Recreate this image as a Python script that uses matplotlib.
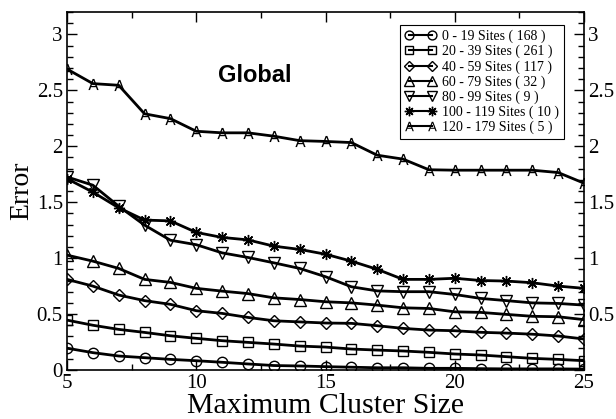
import numpy as np
import matplotlib
matplotlib.use('Agg')
import matplotlib.pyplot as plt
from matplotlib.ticker import MultipleLocator

# maximum cluster size
size = np.arange(5, 26)

# error per site group
e_0_19 = [0.195, 0.155, 0.125, 0.11, 0.095, 0.083, 0.069, 0.054, 0.04, 0.036, 0.03,
          0.025, 0.02, 0.02, 0.015, 0.015, 0.012, 0.01, 0.01, 0.01, 0.008]
e_20_39 = [0.446, 0.40, 0.363, 0.336, 0.306, 0.283, 0.262, 0.247, 0.232, 0.214, 0.205,
           0.1875, 0.178, 0.17, 0.158, 0.143, 0.134, 0.119, 0.104, 0.095, 0.083]
e_40_59 = [0.81, 0.75, 0.67, 0.62, 0.587, 0.53, 0.506, 0.47, 0.44, 0.43, 0.42,
           0.417, 0.396, 0.372, 0.357, 0.351, 0.337, 0.33, 0.32, 0.304, 0.277]
e_60_79 = [1.027, 0.973, 0.908, 0.81, 0.783, 0.73, 0.705, 0.683, 0.645, 0.63, 0.61,
           0.60, 0.58, 0.556, 0.55, 0.52, 0.515, 0.497, 0.48, 0.476, 0.45]
e_80_99 = [1.726, 1.652, 1.464, 1.295, 1.16, 1.12, 1.047, 1.006, 0.958, 0.908, 0.834,
           0.744, 0.707, 0.70, 0.70, 0.675, 0.64, 0.62, 0.60, 0.595, 0.58]
e_100_119 = [1.71, 1.59, 1.45, 1.34, 1.333, 1.23, 1.185, 1.163, 1.107, 1.078, 1.035,
             0.973, 0.90, 0.81, 0.81, 0.82, 0.80, 0.795, 0.78, 0.75, 0.73]
e_120_179 = [2.69, 2.56, 2.545, 2.29, 2.247, 2.134, 2.12, 2.12, 2.09, 2.05, 2.043,
             2.033, 1.92, 1.885, 1.79, 1.786, 1.786, 1.786, 1.786, 1.765, 1.67]

labels = ['0 - 19 Sites ( 168 )', '20 - 39 Sites ( 261 )', '40 - 59 Sites ( 117 )',
          '60 - 79 Sites ( 32 )', '80 - 99 Sites ( 9 )', '100 - 119 Sites ( 10 )',
          '120 - 179 Sites ( 5 )']
series = [e_0_19, e_20_39, e_40_59, e_60_79, e_80_99, e_100_119, e_120_179]
markers = ['o', 's', 'D', '^', 'v', (8, 2, 0), r'$\mathrm{A}$']
msizes = [7.5, 6.5, 6, 8, 8, 8, 8]

plt.rcParams['font.family'] = ['Liberation Serif', 'DejaVu Serif']

fig = plt.figure(figsize=(6.16, 4.19), dpi=100)
ax = fig.add_axes([67/616, 1-370/419, 517/616, 358/419])

for y, m, ms, lab in zip(series, markers, msizes, labels):
    if lab.startswith('120'):
        ax.plot(size, y, color='k', lw=2, marker=m, ms=ms, mfc='k', mec='none',
                label=lab)
    else:
        ax.plot(size, y, color='k', lw=2, marker=m, ms=ms, mfc='none', mec='k',
                mew=1.0, label=lab)

ax.set_xlim(5, 25)
ax.set_ylim(0, 3.2)
ax.xaxis.set_major_locator(MultipleLocator(5))
ax.xaxis.set_minor_locator(MultipleLocator(2.5))
ax.yaxis.set_major_locator(MultipleLocator(0.5))
ax.yaxis.set_minor_locator(MultipleLocator(0.1))
ax.yaxis.set_major_formatter(plt.FuncFormatter(lambda v, p: ('%g' % v)))
ax.tick_params(which='both', direction='in', top=True, right=True,
               labelright=True, labelsize=15, width=1, pad=3)
ax.tick_params(which='major', length=7)
ax.tick_params(which='minor', length=4)
for s in ax.spines.values():
    s.set_linewidth(1.2)

fig.canvas.draw()
for t in ax.yaxis.get_major_ticks():
    if abs(t.get_loc()) < 1e-9:
        t.label2.set_visible(False)

ax.set_xlabel('Maximum Cluster Size', fontsize=21.5, labelpad=0)
ax.set_ylabel('Error', fontsize=20, labelpad=2)

ax.text(0.364, 0.824, 'Global', transform=ax.transAxes, ha='center', va='center',
        fontsize=17, fontweight='bold', family=['Liberation Sans', 'DejaVu Sans'])

leg = ax.legend(loc='upper right', bbox_to_anchor=(0.961, 0.964), borderaxespad=0,
                fontsize=10, numpoints=2, handlelength=2.3, labelspacing=0.12,
                handletextpad=0.4, borderpad=0.35, fancybox=False, framealpha=1,
                edgecolor='k', markerscale=0.85)
leg.get_frame().set_linewidth(0.8)
for h in leg.get_lines():
    h.set_linewidth(1.5)

fig.savefig('out.png', dpi=100)
